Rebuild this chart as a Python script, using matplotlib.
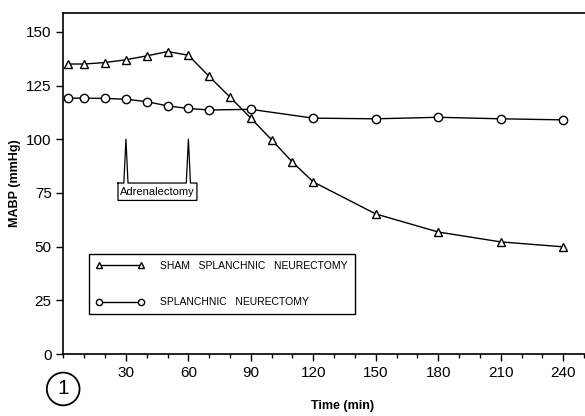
import matplotlib
matplotlib.use('Agg')
import matplotlib.pyplot as plt
from matplotlib.ticker import MultipleLocator

# Valeurs (MABP en mmHg)
temps_sham = [2, 10, 20, 30, 40, 50, 60, 70, 80, 90, 100, 110, 120, 150, 180, 210, 240]
mabp_sham = [135, 135, 135.7, 137, 138.8, 140.8, 139.1, 129.2, 119.6, 109.8, 99.7, 89.3,
             80.1, 65.2, 56.8, 52.2, 49.9]

temps_splanch = [2, 10, 20, 30, 40, 50, 60, 70, 90, 120, 150, 180, 210, 240]
mabp_splanch = [119.1, 119.1, 119.0, 118.6, 117.5, 115.5, 114.3, 113.6, 113.9, 109.8,
                109.5, 110.2, 109.5, 109]

labels = ['SHAM   SPLANCHNIC   NEURECTOMY', 'SPLANCHNIC   NEURECTOMY']
adrenalectomie = [30, 60]
xticks = [30, 60, 90, 120, 150, 180, 210, 240]
yticks = [0, 25, 50, 75, 100, 125, 150]

plt.rcParams['font.family'] = ['Liberation Sans', 'DejaVu Sans']

fig = plt.figure(figsize=(5.85, 4.16), dpi=100)
ax = fig.add_axes([0.1085, 0.149, 0.8915, 0.82])

ax.plot(temps_sham, mabp_sham, color='black', lw=1.0, marker='^', ms=6,
        mfc='white', mec='black', mew=1.0, label=labels[0])
ax.plot(temps_splanch, mabp_splanch, color='black', lw=1.0, marker='o', ms=6,
        mfc='white', mec='black', mew=1.0, label=labels[1])

# Annotation "Adrenalectomy" : boite avec deux pics
t1, t2 = adrenalectomie
base, haut, bas = 79.6, 100, 71.5
gauche, droite = 26.2, 64.1
xs = [gauche, t1 - 1, t1, t1 + 1, t2 - 1, t2, t2 + 1, droite, droite, gauche, gauche]
ys = [base, base, haut, base, base, haut, base, base, bas, bas, base]
ax.plot(xs, ys, color='black', lw=0.9)
ax.text((gauche + droite) / 2, (base + bas) / 2 - 0.3, 'Adrenalectomy', ha='center',
        va='center', fontsize=8)

ax.set_xlim(0, 250.5)
ax.set_ylim(0, 158.8)
ax.set_xticks(xticks)
ax.set_yticks(yticks)
ax.xaxis.set_minor_locator(MultipleLocator(10))
ax.tick_params(axis='both', which='major', labelsize=11, length=5, width=1, direction='out')
ax.tick_params(axis='x', which='minor', length=3, width=1, direction='out')

ax.spines['right'].set_visible(False)
for s in ['left', 'bottom', 'top']:
    ax.spines[s].set_linewidth(1.2)

ax.set_ylabel('MABP (mmHg)', fontsize=9, fontweight='bold', labelpad=4)
ax.set_xlabel('Time (min)', fontsize=9, fontweight='bold', labelpad=16)
ax.xaxis.set_label_coords(0.535, -0.135)

leg = ax.legend(loc='lower left', bbox_to_anchor=(0.049, 0.117), numpoints=2,
                handlelength=4.6, handletextpad=1.6, labelspacing=2.55, fontsize=7.5,
                markerscale=0.75, borderpad=0.65, fancybox=False, framealpha=1,
                edgecolor='black', borderaxespad=0)
leg.get_frame().set_linewidth(1.0)

fig.text(0.108, 0.065, '1', fontsize=15, ha='center', va='center',
         bbox=dict(boxstyle='circle,pad=0.33', fc='none', ec='black', lw=1.3))

fig.savefig('out.png', dpi=100)
